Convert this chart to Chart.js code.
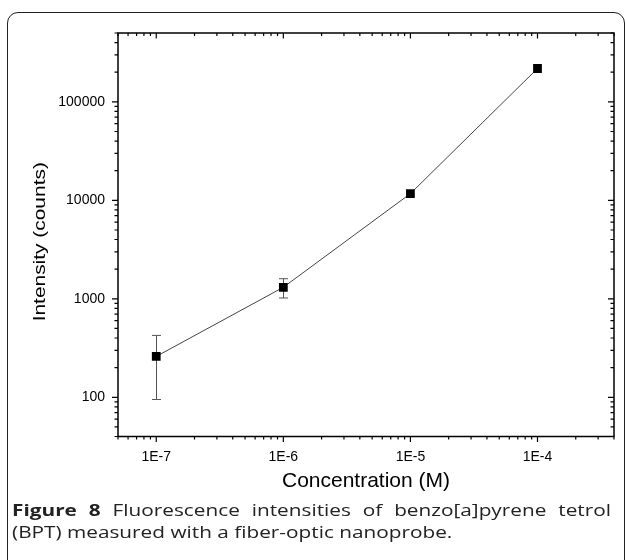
<!DOCTYPE html>
<html>
<head>
<meta charset="utf-8">
<script src="https://cdn.jsdelivr.net/npm/chart.js@4.4.1/dist/chart.umd.min.js"></script>
<style>
  html, body { margin: 0; padding: 0; background: #fff; width: 625px; height: 560px; overflow: hidden; }
  #frame { position: absolute; left: 7px; top: 12px; width: 616px; height: 700px; border: 1px solid #222; border-radius: 11px 11px 0 0; }
  #chart { position: absolute; left: 0; top: 0; }
  #caption { position: absolute; left: 12px; top: 500px; white-space: nowrap; font-family: 'Open Sans', sans-serif; font-size: 15.5px; line-height: 21.5px; color: #222; transform-origin: 0 0; }
  #caption b { font-weight: 700; }
  #line1 { text-align: justify; text-align-last: justify; }
</style>
</head>
<body>
<div id="frame"></div>
<canvas id="chart" width="625" height="500"></canvas>
<div id="caption">
  <div id="line1"><span id="line1text"><b>Figure 8</b> Fluorescence intensities of benzo[a]pyrene tetrol</span></div>
  <div id="line2">(BPT) measured with a fiber-optic nanoprobe.</div>
</div>
<script>
// data (log-log)
const concentrations = [1e-7, 1e-6, 1e-5, 1e-4];
const intensities = [260, 1310, 11700, 218000];
const intensityErr = [165, 290, 0, 0];
const xTickValues = [1e-7, 1e-6, 1e-5, 1e-4];
const xTickLabels = ['1E-7', '1E-6', '1E-5', '1E-4'];
const yTickValues = [100, 1000, 10000, 100000];
const yTickLabels = ['100', '1000', '10000', '100000'];
const yTitle = 'Intensity (counts)';

const fontFamily = "'Liberation Sans', Arial, sans-serif";
const tickFont = { family: fontFamily, size: 14 };

// caption is set wide in the figure: stretch it, then justify line 1 to the frame
const capScale = 560 / document.getElementById('line1text').getBoundingClientRect().width;
document.getElementById('line1').style.width = (599 / capScale) + 'px';
document.getElementById('caption').style.transform = 'scaleX(' + capScale + ')';

// log minor positions 1..9 x 10^e inside [min, max]
function logTicks(min, max) {
  const out = [];
  for (let e = Math.floor(Math.log10(min)); e <= Math.ceil(Math.log10(max)); e++) {
    for (let m = 1; m <= 9; m++) {
      const v = m * Math.pow(10, e);
      if (v >= min * 0.9999 && v <= max * 1.0001) out.push({ v: v, major: m === 1 });
    }
  }
  return out;
}

const errorBars = {
  id: 'errorBars',
  beforeDatasetsDraw(chart) {
    const ctx = chart.ctx, xs = chart.scales.x, ys = chart.scales.y;
    ctx.save();
    ctx.strokeStyle = '#555';
    ctx.lineWidth = 1;
    concentrations.forEach((c, i) => {
      const e = intensityErr[i];
      if (!e) return;
      const px = Math.round(xs.getPixelForValue(c)) + 0.5;
      const top = ys.getPixelForValue(intensities[i] + e);
      const bot = ys.getPixelForValue(intensities[i] - e);
      ctx.beginPath();
      ctx.moveTo(px, top); ctx.lineTo(px, bot);
      ctx.moveTo(px - 4.5, top); ctx.lineTo(px + 4.5, top);
      ctx.moveTo(px - 4.5, bot); ctx.lineTo(px + 4.5, bot);
      ctx.stroke();
    });
    ctx.restore();
  }
};

const frameTicks = {
  id: 'frameTicks',
  afterDraw(chart) {
    const ctx = chart.ctx, a = chart.chartArea, xs = chart.scales.x, ys = chart.scales.y;
    ctx.save();
    ctx.strokeStyle = '#000';
    ctx.lineWidth = 1.5;
    ctx.strokeRect(a.left, a.top, a.right - a.left, a.bottom - a.top);
    ctx.lineWidth = 1.2;
    ctx.beginPath();
    logTicks(xs.min, xs.max).forEach(t => {
      const px = xs.getPixelForValue(t.v);
      const len = t.major ? 5.5 : 3;
      ctx.moveTo(px, a.bottom); ctx.lineTo(px, a.bottom + len);
      ctx.moveTo(px, a.top); ctx.lineTo(px, a.top + len);
    });
    logTicks(ys.min, ys.max).forEach(t => {
      const py = ys.getPixelForValue(t.v);
      const len = t.major ? 6 : 3.5;
      ctx.moveTo(a.left, py); ctx.lineTo(a.left - len, py);
      ctx.moveTo(a.right, py); ctx.lineTo(a.right - len, py);
    });
    ctx.stroke();

    // y title, a little long for its height like the original
    ctx.translate(a.left - 78, (a.top + a.bottom) / 2 + 7);
    ctx.rotate(-Math.PI / 2);
    ctx.scale(1.23, 1);
    ctx.fillStyle = '#000';
    ctx.font = '17px ' + fontFamily;
    ctx.textAlign = 'center';
    ctx.textBaseline = 'middle';
    ctx.fillText(yTitle, 0, 0);
    ctx.restore();
  }
};

new Chart(document.getElementById('chart'), {
  type: 'scatter',
  data: {
    datasets: [{
      data: concentrations.map((c, i) => ({ x: c, y: intensities[i] })),
      showLine: true,
      borderColor: '#444',
      borderWidth: 1,
      pointStyle: 'rect',
      pointRadius: 6.2,
      pointBackgroundColor: '#000',
      pointBorderWidth: 0
    }]
  },
  options: {
    responsive: false,
    animation: false,
    layout: { padding: { top: 33, right: 11, left: 0, bottom: 0 } },
    plugins: { legend: { display: false }, tooltip: { enabled: false } },
    scales: {
      x: {
        type: 'logarithmic',
        min: 5e-8,
        max: 4e-4,
        afterFit: s => { s.height = 63.5; },
        afterBuildTicks: s => { s.ticks = xTickValues.map(v => ({ value: v })); },
        grid: { display: false, drawTicks: false },
        border: { display: false },
        ticks: { padding: 12, font: tickFont, color: '#000', autoSkip: false, maxRotation: 0,
          callback: (v, i) => xTickLabels[i] },
        title: { display: true, text: 'Concentration (M)', font: { family: fontFamily, size: 21 }, color: '#000', padding: { top: 0, bottom: 6 } }
      },
      y: {
        type: 'logarithmic',
        min: 40,
        max: 5e5,
        afterFit: s => { s.width = 118; },
        afterBuildTicks: s => { s.ticks = yTickValues.map(v => ({ value: v })); },
        grid: { display: false, drawTicks: false },
        border: { display: false },
        ticks: { padding: 13, font: tickFont, color: '#000', autoSkip: false,
          callback: (v, i) => yTickLabels[i] },
        title: { display: false }
      }
    }
  },
  plugins: [errorBars, frameTicks]
});
</script>
</body>
</html>
